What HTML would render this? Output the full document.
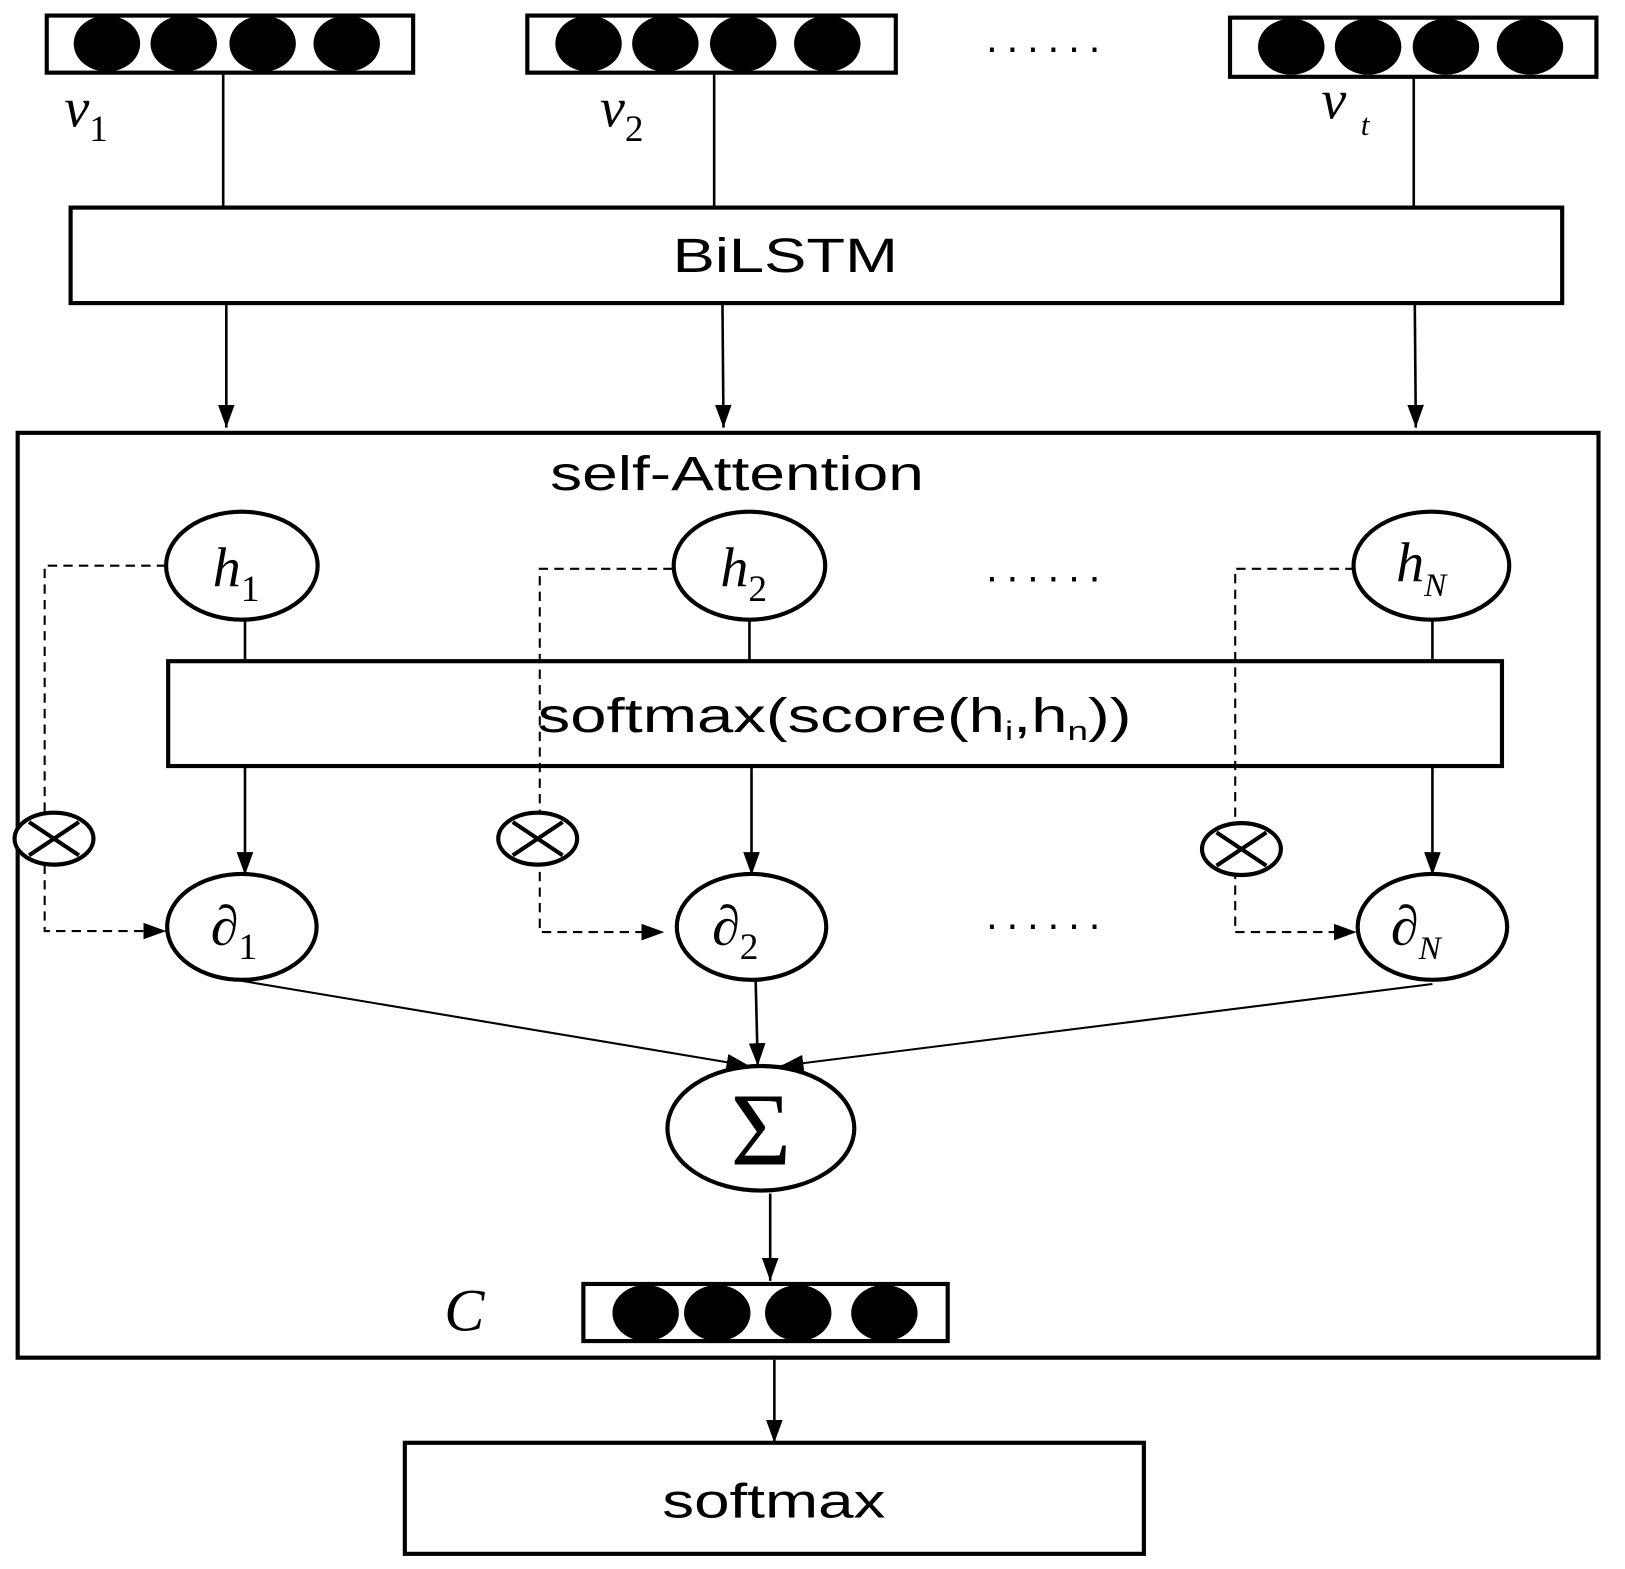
<!DOCTYPE html>
<html><head><style>html,body{margin:0;padding:0;background:#fff}svg{display:block}</style></head>
<body>
<svg width="1625" height="1569" viewBox="0 0 1565.5 1511.6" xmlns="http://www.w3.org/2000/svg">
<defs>
<marker id="b" viewBox="0 0 10 10" refX="10" refY="5" markerWidth="22" markerHeight="16" orient="auto" markerUnits="userSpaceOnUse" preserveAspectRatio="none"><path d="M0,0 L10,5 L0,10 z" fill="#000"/></marker>
</defs>
<g fill="none" stroke="#000">
<rect x="45" y="15" width="353" height="55" stroke-width="4"/>
<rect x="508" y="15" width="355" height="55" stroke-width="4"/>
<rect x="1185" y="17" width="353" height="57" stroke-width="4"/>
</g>
<g fill="#000">
<ellipse cx="103" cy="42" rx="32" ry="27"/><ellipse cx="177" cy="42" rx="32" ry="27"/><ellipse cx="253" cy="42" rx="32" ry="27"/><ellipse cx="334" cy="42" rx="32" ry="27"/>
<ellipse cx="567" cy="42" rx="32" ry="27"/><ellipse cx="641" cy="42" rx="32" ry="27"/><ellipse cx="716" cy="42" rx="32" ry="27"/><ellipse cx="797" cy="42" rx="32" ry="27"/>
<ellipse cx="1244" cy="45" rx="32" ry="27"/><ellipse cx="1318" cy="45" rx="32" ry="27"/><ellipse cx="1393" cy="45" rx="32" ry="27"/><ellipse cx="1474" cy="45" rx="32" ry="27"/>
<ellipse cx="622" cy="1265" rx="32" ry="27"/><ellipse cx="691" cy="1265" rx="32" ry="27"/><ellipse cx="769" cy="1265" rx="32" ry="27"/><ellipse cx="852" cy="1265" rx="32" ry="27"/>
</g>
<g font-family="'Liberation Serif',serif" font-style="italic" font-size="54" fill="#000">
<text x="62" y="122">v<tspan font-style="normal" font-size="36" dy="14">1</tspan></text>
<text x="578" y="122">v<tspan font-style="normal" font-size="36" dy="14">2</tspan></text>
<text x="1273" y="114">v<tspan font-size="30" dy="16" dx="14">t</tspan></text>
<text x="205" y="565">h<tspan font-style="normal" font-size="36" dy="14">1</tspan></text>
<text x="694" y="565">h<tspan font-style="normal" font-size="36" dy="14">2</tspan></text>
<text x="1345" y="560">h<tspan font-size="32" dy="14">N</tspan></text>
<text x="203" y="910">∂<tspan font-style="normal" font-size="36" dy="14">1</tspan></text>
<text x="686" y="910">∂<tspan font-style="normal" font-size="36" dy="14">2</tspan></text>
<text x="1340" y="910">∂<tspan font-size="32" dy="14">N</tspan></text>
<text x="428" y="1282" font-size="58">C</text>
</g>
<text x="733" y="1122" font-family="'Liberation Serif',serif" font-size="100" text-anchor="middle">Σ</text>
<g font-family="'Liberation Sans',sans-serif" font-size="46" fill="#000">
<text x="648" y="262" textLength="217" lengthAdjust="spacingAndGlyphs">BiLSTM</text>
<text x="530" y="472" textLength="360" lengthAdjust="spacingAndGlyphs">self-Attention</text>
<text x="518" y="705" textLength="572" lengthAdjust="spacingAndGlyphs">softmax(score(h<tspan font-size="26" dy="8">i</tspan><tspan dy="-8">,h</tspan><tspan font-size="26" dy="8">n</tspan><tspan dy="-8">))</tspan></text>
<text x="638" y="1462" textLength="215" lengthAdjust="spacingAndGlyphs">softmax</text>
</g>
<g font-family="'Liberation Sans',sans-serif" font-size="40" fill="#000">
<text x="950" y="50" textLength="110" lengthAdjust="spacing">......</text><text x="950" y="560" textLength="110" lengthAdjust="spacing">......</text><text x="950" y="895" textLength="110" lengthAdjust="spacing">......</text>
</g>
<g fill="none" stroke="#000" stroke-width="2.5">
<line x1="215" y1="70" x2="215" y2="200"/><line x1="688" y1="70" x2="688" y2="200"/><line x1="1362" y1="74" x2="1362" y2="200"/>
<line x1="218" y1="292" x2="218" y2="412" marker-end="url(#b)"/>
<line x1="696" y1="292" x2="697" y2="412" marker-end="url(#b)"/>
<line x1="1363" y1="292" x2="1364" y2="412" marker-end="url(#b)"/>
<line x1="236" y1="597" x2="236" y2="637"/><line x1="722" y1="597" x2="722" y2="637"/><line x1="1380" y1="597" x2="1380" y2="637"/>
<line x1="236" y1="738" x2="236" y2="843" marker-end="url(#b)"/>
<line x1="724" y1="738" x2="724" y2="843" marker-end="url(#b)"/>
<line x1="1380" y1="738" x2="1380" y2="843" marker-end="url(#b)"/>
<line x1="233" y1="945" x2="722" y2="1027" stroke-width="2" marker-end="url(#b)"/>
<line x1="728" y1="945" x2="730" y2="1027" marker-end="url(#b)"/>
<line x1="1380" y1="948" x2="752" y2="1027" stroke-width="2" marker-end="url(#b)"/>
<line x1="742" y1="1150" x2="742" y2="1234" marker-end="url(#b)"/>
<line x1="746" y1="1310" x2="746" y2="1390" marker-end="url(#b)"/>
</g>
<g fill="none" stroke="#000" stroke-width="4">
<rect x="68" y="200" width="1437" height="92"/>
<rect x="17" y="417" width="1523" height="891"/>
<rect x="162" y="637" width="1285" height="101"/>
<rect x="562" y="1237" width="351" height="55"/>
<rect x="390" y="1390" width="712" height="107"/>
<ellipse cx="233" cy="545" rx="73" ry="52"/><ellipse cx="722" cy="545" rx="73" ry="52"/><ellipse cx="1379" cy="545" rx="75" ry="52"/>
<ellipse cx="233" cy="893" rx="72" ry="51"/><ellipse cx="724" cy="893" rx="72" ry="51"/><ellipse cx="1380" cy="893" rx="72" ry="51"/>
<ellipse cx="733" cy="1087" rx="90" ry="60"/>
</g>
<g fill="none" stroke="#000" stroke-width="2" stroke-dasharray="9,6">
<path d="M160,545 H43 V897 H160" marker-end="url(#b)"/>
<path d="M648,548 H520 V898 H640" marker-end="url(#b)"/>
<path d="M1305,548 H1190 V898 H1307" marker-end="url(#b)"/>
</g>
<g stroke="#000" stroke-width="4" fill="#fff">
<ellipse cx="52" cy="808" rx="38" ry="25"/><path d="M28,792 L76,824 M28,824 L76,792"/>
<ellipse cx="518" cy="808" rx="38" ry="25"/><path d="M494,792 L542,824 M494,824 L542,792"/>
<ellipse cx="1196" cy="818" rx="38" ry="25"/><path d="M1172,802 L1220,834 M1172,834 L1220,802"/>
</g>
</svg>
</body></html>
